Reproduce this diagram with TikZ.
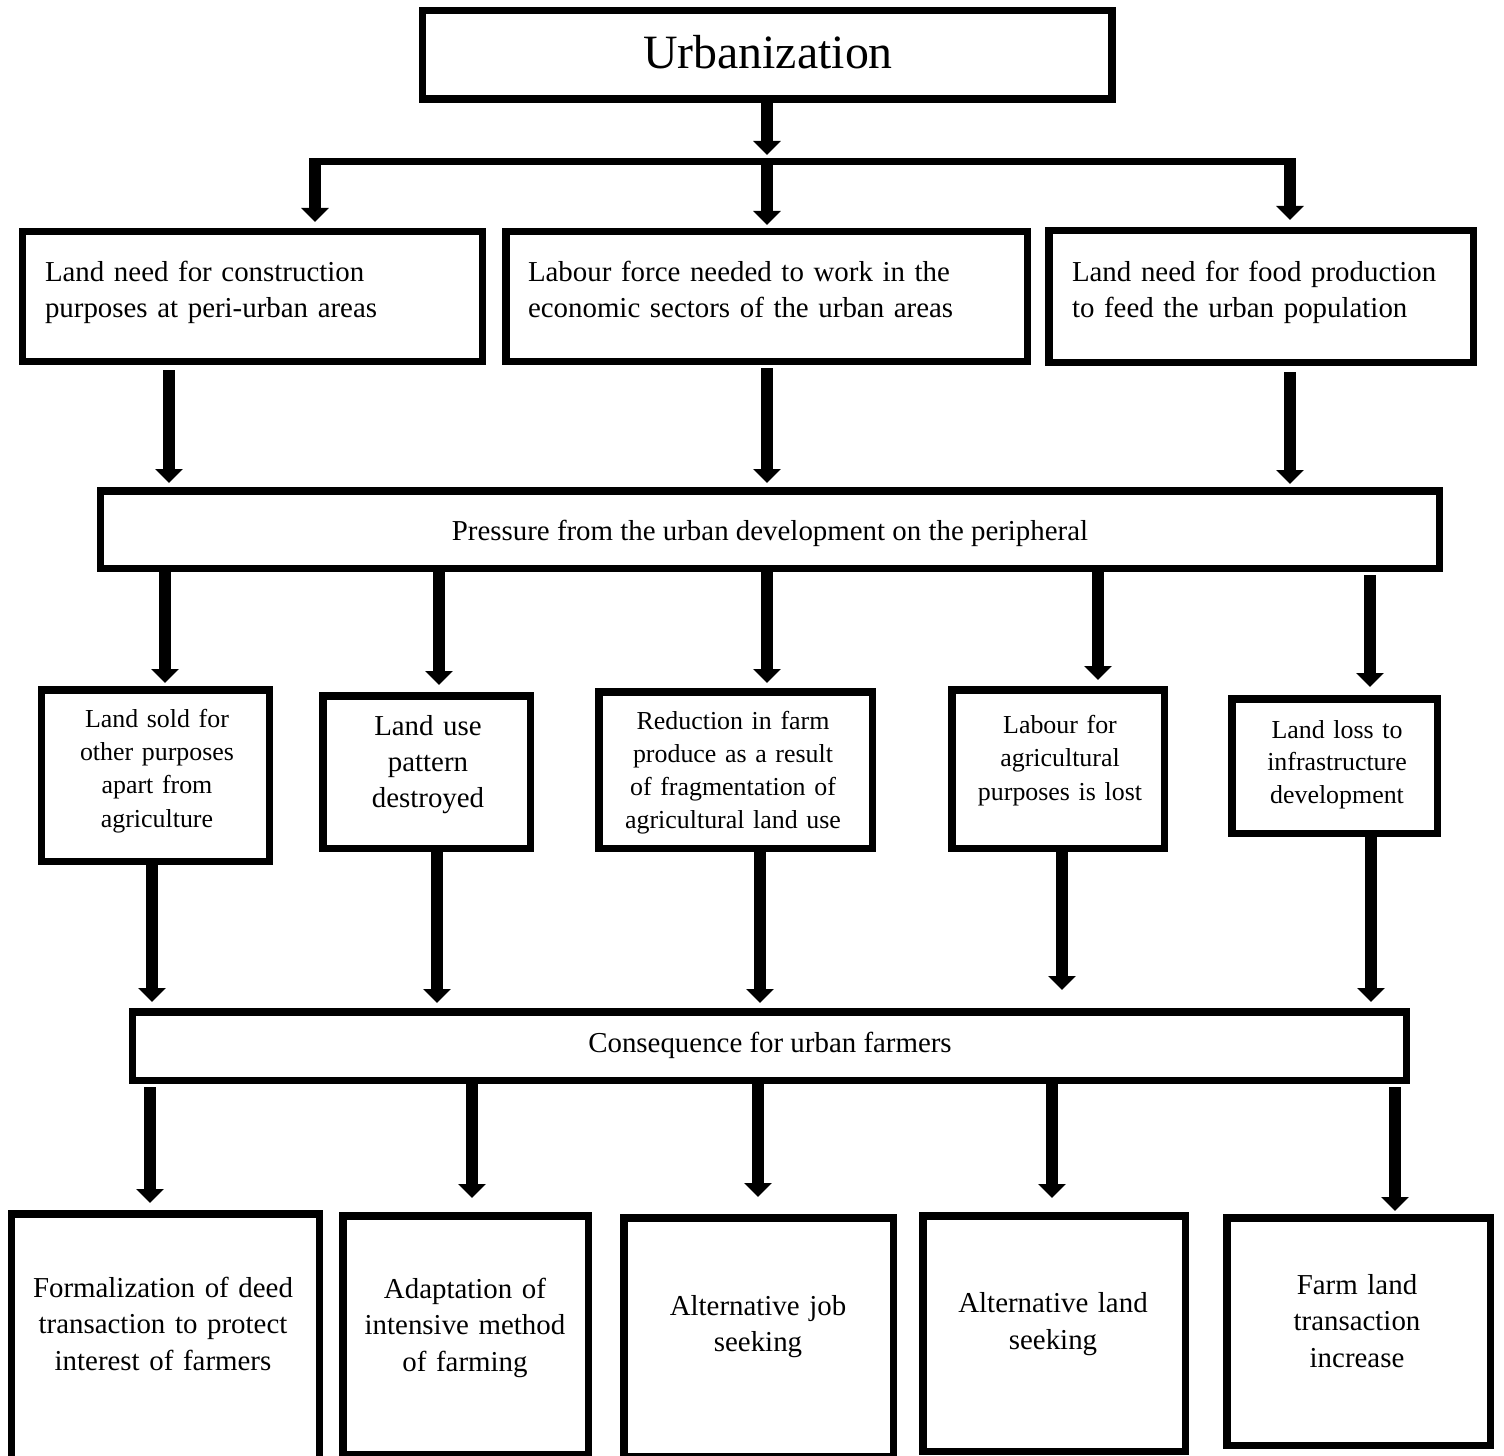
\documentclass[tikz,border=0pt]{standalone}
\usepackage{fontspec}
\setmainfont{Liberation Serif}
\usetikzlibrary{arrows.meta}
\begin{document}
\begin{tikzpicture}[x=1bp,y=-1bp,
  box/.style={draw, line width=7.5bp, rectangle, inner sep=0pt},
  arr/.style={line width=11.5bp, -{Triangle[width=27bp,length=14bp]}},
  txt/.style={inner sep=0pt, outer sep=0pt, align=center},
  big/.style={font=\fontsize{29}{37}\selectfont},
  small/.style={font=\fontsize{26}{33.5}\selectfont}]
\useasboundingbox (0,0) rectangle (1504,1456);
\fill[white] (0,0) rectangle (1504,1456);

% ---------- boxes ----------
\node[box, minimum width=689.5bp, minimum height=88.5bp] (U) at (767,55) {};
\node[box, minimum width=459.5bp, minimum height=129.5bp] (b1) at (252.5,296.5) {};
\node[box, minimum width=521.5bp, minimum height=129.5bp] (b2) at (766.5,296.5) {};
\node[box, minimum width=424.5bp, minimum height=131.5bp] (b3) at (1261,296.5) {};
\node[box, minimum width=1338.5bp, minimum height=77.5bp] (pr) at (770,529.5) {};
\node[box, minimum width=227.5bp, minimum height=171.5bp] (A) at (155.5,775.5) {};
\node[box, minimum width=207.5bp, minimum height=152.5bp] (B) at (426.5,772) {};
\node[box, minimum width=273.5bp, minimum height=156.5bp] (C) at (735.5,770) {};
\node[box, minimum width=212.5bp, minimum height=158.5bp] (D) at (1058,769) {};
\node[box, minimum width=205.5bp, minimum height=134.5bp] (E) at (1334.5,766) {};
\node[box, minimum width=1273.5bp, minimum height=68.5bp] (cs) at (769.5,1046) {};
\node[box, minimum width=307.5bp, minimum height=250.5bp] (F) at (165.5,1339) {};
\node[box, minimum width=245.5bp, minimum height=238.5bp] (G) at (465.5,1335) {};
\node[box, minimum width=269.5bp, minimum height=238.5bp] (H) at (758.5,1337) {};
\node[box, minimum width=262.5bp, minimum height=235.5bp] (I) at (1054,1333.5) {};
\node[box, minimum width=263.5bp, minimum height=227.5bp] (J) at (1358.5,1331.5) {};

% ---------- texts ----------
\node[txt, anchor=base, font=\fontsize{48}{56}\selectfont] (tU) at (768,69) {Urbanization};
\node[txt, big, anchor=base west, align=left, text width=440bp] (t1) at (45,281)
  {Land need for construction\\purposes at peri-urban areas};
\node[txt, big, anchor=base west, align=left, text width=490bp] (t2) at (528,281)
  {Labour force needed to work in the\\economic sectors of the urban areas};
\node[txt, big, anchor=base west, align=left, text width=400bp] (t3) at (1072,281)
  {Land need for food production\\to feed the urban population};
\node[txt, big, anchor=base] (tp) at (770,540) {Pressure from the urban development on the peripheral};
\node[txt, small, anchor=base, text width=220bp] (tA) at (157,727)
  {Land sold for\\other purposes\\apart from\\agriculture};
\node[txt, anchor=base, text width=200bp, font=\fontsize{29}{36.5}\selectfont] (tB) at (428,735)
  {Land use\\pattern\\destroyed};
\node[txt, anchor=base, text width=260bp, font=\fontsize{26}{33.3}\selectfont] (tC) at (733,729)
  {Reduction in farm\\produce as a result\\of fragmentation of\\agricultural land use};
\node[txt, anchor=base, text width=200bp, font=\fontsize{26}{34}\selectfont] (tD) at (1060,733)
  {Labour for\\agricultural\\purposes is lost};
\node[txt, anchor=base, text width=200bp, font=\fontsize{26}{33}\selectfont] (tE) at (1337,738)
  {Land loss to\\infrastructure\\development};
\node[txt, big, anchor=base] (tc) at (770,1052) {Consequence for urban farmers};
\node[txt, big, anchor=base, text width=300bp] (tF) at (163,1297)
  {Formalization of deed\\transaction to protect\\interest of farmers};
\node[txt, big, anchor=base, text width=240bp] (tG) at (465,1298)
  {Adaptation of\\intensive method\\of farming};
\node[txt, big, anchor=base, text width=260bp] (tH) at (758,1315)
  {Alternative job\\seeking};
\node[txt, anchor=base, text width=260bp, font=\fontsize{29}{38}\selectfont] (tI) at (1053,1312)
  {Alternative land\\seeking};
\node[txt, big, anchor=base, text width=250bp] (tJ) at (1357,1294)
  {Farm land\\transaction\\increase};

% ---------- column coordinates ----------
\coordinate (hub) at (767,162);
\coordinate (dl) at (309,162);
\coordinate (dr) at (1296,162);
\coordinate (d1) at (315,158.5);
\coordinate (d2) at (767,158.5);
\coordinate (d3) at (1290,158.5);
\coordinate (p1) at (169,0);
\coordinate (p2) at (767,0);
\coordinate (p3) at (1290,0);
\coordinate (q1) at (165,0);
\coordinate (q2) at (439,0);
\coordinate (q3) at (767,0);
\coordinate (q4) at (1098,0);
\coordinate (q5) at (1370,0);
\coordinate (r1) at (152,0);
\coordinate (r2) at (437,0);
\coordinate (r3) at (760,0);
\coordinate (r4) at (1062,0);
\coordinate (r5) at (1371,0);
\coordinate (s1) at (150,0);
\coordinate (s2) at (472,0);
\coordinate (s3) at (758,0);
\coordinate (s4) at (1052,0);
\coordinate (s5) at (1395,0);

% ---------- connectors ----------
\draw[arr, shorten >=7bp] (U.south -| hub) -- (hub);
\draw[line width=7bp] (dl) -- (dr);
\draw[arr, shorten >=6bp] (d1) -- (b1.north -| d1);
\draw[arr, shorten >=3bp] (d2) -- (b2.north -| d2);
\draw[arr, shorten >=7bp] (d3) -- (b3.north -| d3);

\draw[arr, shorten <=5bp, shorten >=4bp] (b1.south -| p1) -- (pr.north -| p1);
\draw[arr, shorten <=3bp, shorten >=4bp] (b2.south -| p2) -- (pr.north -| p2);
\draw[arr, shorten <=6bp, shorten >=3bp] (b3.south -| p3) -- (pr.north -| p3);

\draw[arr, shorten >=3bp] (pr.south -| q1) -- (A.north -| q1);
\draw[arr, shorten >=7bp] (pr.south -| q2) -- (B.north -| q2);
\draw[arr, shorten >=5bp] (pr.south -| q3) -- (C.north -| q3);
\draw[arr, shorten >=6bp] (pr.south -| q4) -- (D.north -| q4);
\draw[arr, shorten <=3bp, shorten >=8bp] (pr.south -| q5) -- (E.north -| q5);

\draw[arr, shorten >=6bp] (A.south -| r1) -- (cs.north -| r1);
\draw[arr, shorten >=5bp] (B.south -| r2) -- (cs.north -| r2);
\draw[arr, shorten >=5bp] (C.south -| r3) -- (cs.north -| r3);
\draw[arr, shorten >=18bp] (D.south -| r4) -- (cs.north -| r4);
\draw[arr, shorten >=6bp] (E.south -| r5) -- (cs.north -| r5);

\draw[arr, shorten <=3bp, shorten >=7bp] (cs.south -| s1) -- (F.north -| s1);
\draw[arr, shorten >=14bp] (cs.south -| s2) -- (G.north -| s2);
\draw[arr, shorten >=17bp] (cs.south -| s3) -- (H.north -| s3);
\draw[arr, shorten >=14bp] (cs.south -| s4) -- (I.north -| s4);
\draw[arr, shorten <=3bp, shorten >=3bp] (cs.south -| s5) -- (J.north -| s5);
\end{tikzpicture}
\end{document}
